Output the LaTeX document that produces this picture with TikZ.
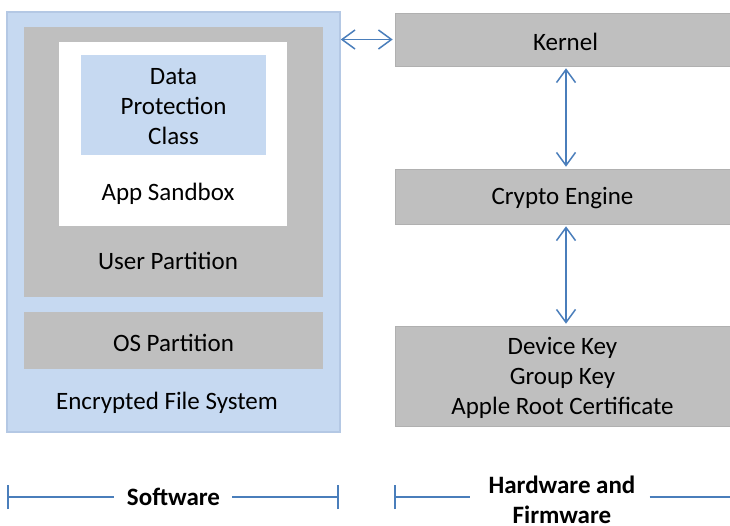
\documentclass[tikz,border=0pt]{standalone}
\usepackage{fontspec}
\setmainfont{Carlito}
\usetikzlibrary{arrows.meta}
\definecolor{lblue}{HTML}{C6D9F1}
\definecolor{lblueedge}{HTML}{B4C8E4}
\definecolor{gbox}{HTML}{BFBFBF}
\definecolor{gedge}{HTML}{B0B0B0}
\definecolor{arr}{HTML}{4A7EBB}
\begin{document}
\begin{tikzpicture}[x=1pt,y=-1pt,
  every node/.style={font=\fontsize{25}{30}\selectfont, text=black},
  bluebox/.style={fill=lblue, draw=lblueedge, line width=1.5pt, inner sep=0pt},
  dpcbox/.style={fill=lblue, inner sep=0pt},
  graybox/.style={fill=gbox, draw=gedge, line width=0.6pt, inner sep=0pt},
  whitebox/.style={fill=white, inner sep=0pt},
  lbl/.style={inner sep=0pt, align=center},
  link/.style={draw=arr, line width=1.5pt, {Straight Barb[length=13pt,width=19pt,line width=1.5pt]}-{Straight Barb[length=13pt,width=19pt,line width=1.5pt]}},
  brk/.style={draw=arr, line width=1.6pt},
  brklbl/.style={font=\fontsize{25}{30}\selectfont\bfseries, inner sep=0pt, align=center}
]
\useasboundingbox (0,0) rectangle (730,525);
\fill[white] (0,0) rectangle (730,525);

% software stack
\node[bluebox, minimum width=333pt, minimum height=420pt] (efs) at (173.5,222) {};
\node[graybox, draw=none, minimum width=299pt, minimum height=270pt] (user) at (173.5,162) {};
\node[whitebox, minimum width=228pt, minimum height=184pt] (sandbox) at (173,134) {};
\node[dpcbox, minimum width=185pt, minimum height=100pt] (dpc) at (173.5,105) {};
\node[lbl] (dpclbl) at ([yshift=-2pt]dpc.center) {Data\\Protection\\Class};
\node[lbl] (sandboxlbl) at (168,194) {App Sandbox};
\node[lbl] (userlbl) at (168,261) {User Partition};
\node[graybox, draw=none, minimum width=299pt, minimum height=57pt] (os) at (173.5,340.5) {};
\node[lbl] (oslbl) at ([yshift=-2pt]os.center) {OS Partition};
\node[lbl] (efslbl) at (167,403) {Encrypted File System};

% hardware stack
\node[graybox, minimum width=335pt, minimum height=53pt] (kernel) at (562.5,39.5) {};
\node[lbl] (kernellbl) at ([xshift=3pt,yshift=-2pt]kernel.center) {Kernel};
\node[graybox, minimum width=335pt, minimum height=55pt] (crypto) at (562.5,196.5) {};
\node[lbl] (cryptolbl) at ([yshift=-2pt]crypto.center) {Crypto Engine};
\node[graybox, minimum width=335pt, minimum height=100pt] (keys) at (562.5,376) {};
\node[lbl] (keyslbl) at ([yshift=-2pt]keys.center) {Device Key\\Group Key\\Apple Root Certificate};

% connectors
\draw[link, shorten >=2pt] (efs.east |- kernel.west) -- (kernel.west);
\draw[link, shorten <=2pt, shorten >=2pt] ([xshift=3.5pt]kernel.south) -- ([xshift=3.5pt]crypto.north);
\draw[link, shorten <=2pt, shorten >=2pt] ([xshift=3.5pt]crypto.south) -- ([xshift=3.5pt]keys.north);

% brackets
\coordinate (swL) at (8,497);
\coordinate (swR) at (338,497);
\node[brklbl] (sw) at (173.5,497) {Software};
\draw[brk] ([yshift=-12pt]swL) -- ([yshift=12pt]swL);
\draw[brk] ([yshift=-12pt]swR) -- ([yshift=12pt]swR);
\draw[brk] (swL) -- ([xshift=-13pt]sw.west |- swL);
\draw[brk] ([xshift=12pt]sw.east |- swR) -- (swR);

\coordinate (hwL) at (395,497);
\coordinate (hwR) at (730,497);
\node[brklbl] (hw) at (562,500) {Hardware and\\Firmware};
\draw[brk] ([yshift=-12pt]hwL) -- ([yshift=12pt]hwL);
\draw[brk] (hwL) -- ([xshift=-18pt]hw.west |- hwL);
\draw[brk] ([xshift=14pt]hw.east |- hwR) -- (hwR);
\end{tikzpicture}
\end{document}
